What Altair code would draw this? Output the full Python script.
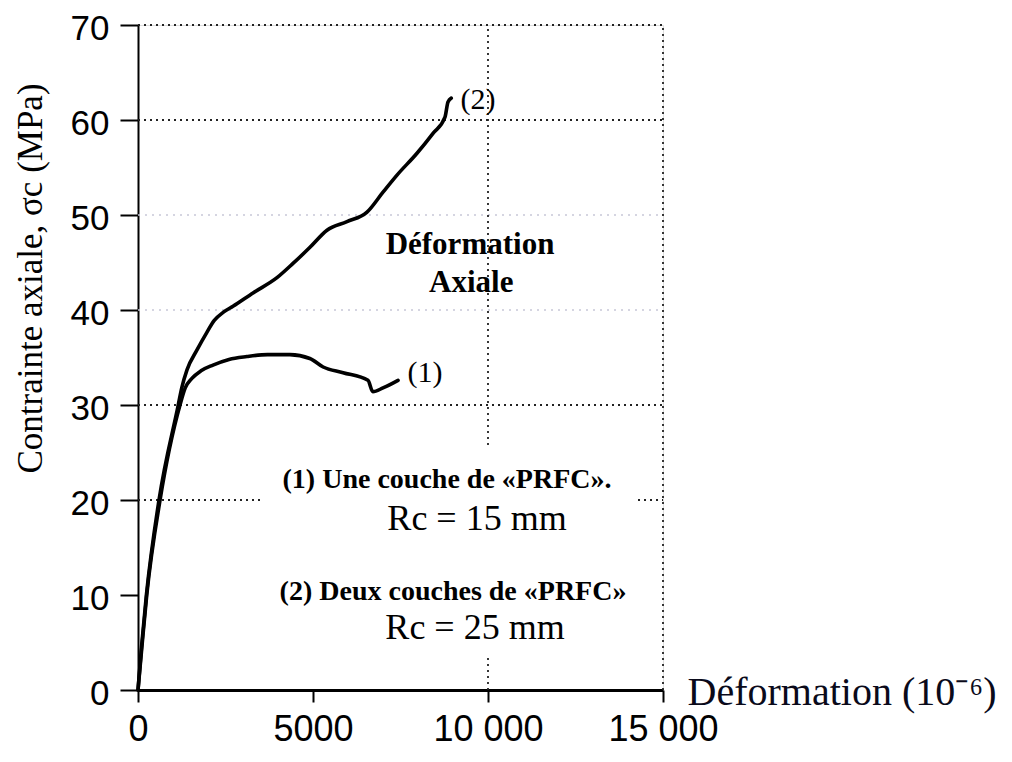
import altair as alt
import pandas as pd

# ---- data ----
c1_x = [0, 110, 250, 630, 1200, 1350, 1540, 1800, 2143, 2600, 3110, 3700, 4340, 4910, 5290, 5860, 6570, 6710, 7000, 7430]
c1_y = [0, 4.5, 10, 20, 30, 31.8, 32.8, 33.6, 34.2, 34.8, 35.1, 35.3, 35.3, 34.9, 34.0, 33.4, 32.6, 31.4, 31.8, 32.6]

c2_x = [0, 100, 240, 600, 1150, 1250, 1400, 1686, 1960, 2180, 2450, 2714, 3286, 3971, 4429, 4914, 5400, 5971, 6543, 7000, 7400, 7971, 8429, 8771, 8857, 8950]
c2_y = [0, 4.5, 10, 20, 30, 31.8, 33.7, 35.8, 37.6, 38.9, 39.8, 40.4, 41.8, 43.4, 44.9, 46.6, 48.4, 49.3, 50.3, 52.4, 54.2, 56.5, 58.6, 60.3, 61.9, 62.3]

x_tick_values = [0, 5000, 10000, 15000]
x_tick_labels = ["0", "5000", "10 000", "15 000"]
y_tick_values = [0, 10, 20, 30, 40, 50, 60, 70]

# dotted grid segments (visible parts)
hgrid_y = [70, 60, 30, 20, 20]
hgrid_x1 = [0, 0, 0, 0, 14286]
hgrid_x2 = [15000, 15000, 15000, 3570, 15000]
hgrid_light_y = [50, 40]
vgrid_x = [10000, 10000, 15000]
vgrid_y1 = [25.8, 0, 0]
vgrid_y2 = [70, 3.7, 70]

curve_labels = ["(1)", "(2)"]
curve_label_x = [8200, 9714]
curve_label_y = [33.4, 62.1]

head_text = ["Déformation", "Axiale"]
head_x = [9486, 9520]
head_y = [46.8, 42.8]

legend_text = ["(1) Une couche de «PRFC».", "(2) Deux couches de «PRFC»"]
legend_x = [8829, 9000]
legend_y = [22.1, 10.3]

rc_text = ["Rc = 15 mm", "Rc = 25 mm"]
rc_x = [9686, 9629]
rc_y = [18.0, 6.5]

# ---- tables ----
curves = pd.concat([
    pd.DataFrame({"x": c1_x, "y": c1_y, "s": "1", "i": range(len(c1_x))}),
    pd.DataFrame({"x": c2_x, "y": c2_y, "s": "2", "i": range(len(c2_x))}),
])
hgrid = pd.DataFrame({"y": hgrid_y, "x1": hgrid_x1, "x2": hgrid_x2})
hgrid_light = pd.DataFrame({"y": hgrid_light_y, "x1": [0] * len(hgrid_light_y), "x2": [15000] * len(hgrid_light_y)})
vgrid = pd.DataFrame({"x": vgrid_x, "y1": vgrid_y1, "y2": vgrid_y2})

label_expr = " : ".join(
    f"datum.value == {v} ? '{l}'" for v, l in zip(x_tick_values, x_tick_labels)
) + " : datum.label"

xscale = alt.Scale(domain=[0, 15000], nice=False)
yscale = alt.Scale(domain=[0, 70], nice=False)

xaxis = alt.Axis(
    values=x_tick_values, labelExpr=label_expr, grid=False,
    labelFont="Liberation Sans", labelFontSize=36, labelColor="black",
    labelFlush=False, labelOverlap=False,
    labelPadding=10, tickSize=12, tickWidth=2, tickColor="black",
    domainColor="black", domainWidth=3,
    title="Déformation (10⁻⁶)", titleFont="Liberation Serif", titleFontSize=40,
    titleFontWeight="normal", titleColor="#0a0a1a", titleAnchor="start",
    titleAlign="left", titleBaseline="alphabetic", titleX=549, titleY=14,
)
yaxis = alt.Axis(
    values=y_tick_values, grid=False,
    labelFont="Liberation Sans", labelFontSize=35, labelColor="black",
    labelFlush=False, labelOverlap=False, labelOffset=3,
    labelPadding=11, tickSize=18, tickWidth=2, tickColor="black",
    domainColor="black", domainWidth=2,
    title="Contrainte axiale, σc (MPa)", titleFont="Liberation Serif", titleFontSize=35,
    titleFontWeight="normal", titleColor="black", titleAngle=270,
    titleAlign="center", titleBaseline="middle", titleX=-108, titleY=253,
)

base = alt.Chart(curves)

grid_dark = alt.Chart(hgrid).mark_rule(color="#222", strokeWidth=1.8, strokeDash=[2, 4]).encode(
    x=alt.X("x1:Q", scale=xscale, axis=xaxis), x2="x2:Q",
    y=alt.Y("y:Q", scale=yscale, axis=yaxis),
)
grid_light = alt.Chart(hgrid_light).mark_rule(color="#c8c8d8", strokeWidth=1.4, strokeDash=[2, 5]).encode(
    x=alt.X("x1:Q", scale=xscale), x2="x2:Q", y=alt.Y("y:Q", scale=yscale),
)
grid_v = alt.Chart(vgrid).mark_rule(color="#222", strokeWidth=1.8, strokeDash=[2, 4]).encode(
    x=alt.X("x:Q", scale=xscale), y=alt.Y("y1:Q", scale=yscale), y2="y2:Q",
)

lines = base.mark_line(color="black", strokeWidth=3.6, strokeJoin="round", strokeCap="round",
                       interpolate="monotone").encode(
    x=alt.X("x:Q", scale=xscale), y=alt.Y("y:Q", scale=yscale),
    detail="s:N", order="i:Q",
)

def texts(xs, ys, ts, size, weight="normal", align="center"):
    df = pd.DataFrame({"x": xs, "y": ys, "t": ts})
    return alt.Chart(df).mark_text(
        font="Liberation Serif", fontSize=size, fontWeight=weight, color="black",
        align=align, baseline="middle",
    ).encode(x=alt.X("x:Q", scale=xscale), y=alt.Y("y:Q", scale=yscale), text="t:N")

t_curves = texts(curve_label_x, curve_label_y, curve_labels, 30)
t_head = texts(head_x, head_y, head_text, 31, "bold")
t_leg = texts(legend_x, legend_y, legend_text, 28, "bold")
t_rc = texts(rc_x, rc_y, rc_text, 36)

chart = alt.layer(
    grid_light, grid_dark, grid_v, lines, t_curves, t_head, t_leg, t_rc
).properties(
    width=525, height=665,
    autosize=alt.AutoSizeParams(type="none"),
    padding={"left": 130, "top": 17, "right": 341, "bottom": 60},
).configure_view(stroke=None).configure(background="white")

chart.save("out.html", embed_options={"renderer": "svg", "actions": False})
